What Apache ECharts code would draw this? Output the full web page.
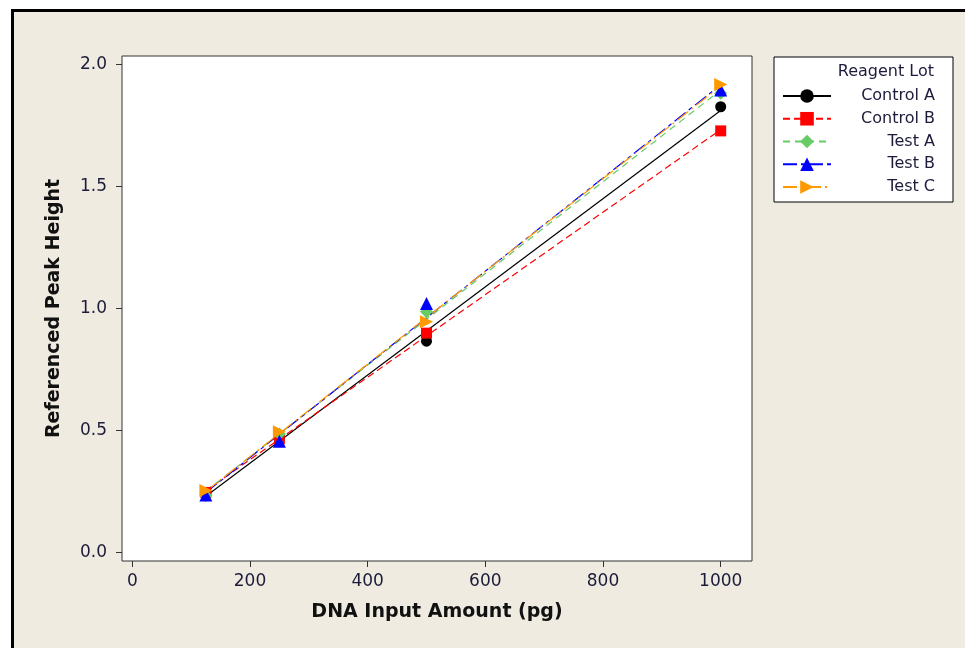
<!DOCTYPE html>
<html>
<head>
<meta charset="utf-8">
<script src="https://cdn.jsdelivr.net/npm/echarts@6/dist/echarts.min.js"></script>
<style>
  html, body { margin: 0; padding: 0; background: #ffffff; }
  #wrap { position: relative; width: 965px; height: 648px; overflow: hidden; background: #ffffff; }
  #frame { position: absolute; left: 11px; top: 9px; width: 1100px; height: 800px; border: 3px solid #000; background: #EFEBE0; }
  #chart { position: absolute; left: 0; top: 0; width: 965px; height: 648px; }
</style>
</head>
<body>
<div id="wrap">
  <div id="frame"></div>
  <div id="chart"></div>
</div>
<script>
// ---- data ----
const xValues = [125, 250, 500, 1000];
const seriesNames = ['Control A', 'Control B', 'Test A', 'Test B', 'Test C'];
const controlA = [0.240, 0.470, 0.865, 1.826];
const controlB = [0.245, 0.465, 0.898, 1.727];
const testA    = [0.232, 0.485, 0.986, 1.881];
const testB    = [0.235, 0.455, 1.020, 1.895];
const testC    = [0.253, 0.494, 0.945, 1.917];
const xTicks = [0, 200, 400, 600, 800, 1000];
const yTicks = [0, 0.5, 1.0, 1.5, 2.0];
const legendTitle = 'Reagent Lot';
const xTitle = 'DNA Input Amount (pg)';
const yTitle = 'Referenced Peak Height';

// ---- styles ----
const allValues = [controlA, controlB, testA, testB, testC];
const styles = [
  { color: '#000000', symbol: 'circle',   size: 11, rotate: 0,   dash: 'solid' },
  { color: '#FF0000', symbol: 'rect',     size: 11, rotate: 0,   dash: [7, 4] },
  { color: '#66CC66', symbol: 'diamond',  size: 13, rotate: 0,   dash: [7, 5] },
  { color: '#0000FF', symbol: 'triangle', size: 13, rotate: 0,   dash: [14, 4, 4, 4] },
  { color: '#FF9900', symbol: 'triangle', size: 13, rotate: -90, dash: [14, 4, 2, 4] }
];

function fit(xs, ys) {
  const n = xs.length;
  const mx = xs.reduce((a, b) => a + b, 0) / n;
  const my = ys.reduce((a, b) => a + b, 0) / n;
  let sxx = 0, sxy = 0;
  for (let i = 0; i < n; i++) { sxx += (xs[i] - mx) ** 2; sxy += (xs[i] - mx) * (ys[i] - my); }
  const b = sxy / sxx, a = my - b * mx;
  const x0 = Math.min(...xs), x1 = Math.max(...xs);
  return [[x0, a + b * x0], [x1, a + b * x1]];
}

const lineSeries = seriesNames.map((name, i) => ({
  name: name,
  type: 'line',
  data: fit(xValues, allValues[i]),
  showSymbol: false,
  symbol: styles[i].symbol,
  symbolSize: styles[i].size,
  symbolRotate: styles[i].rotate,
  itemStyle: { color: styles[i].color },
  lineStyle: { color: styles[i].color, width: 1.2, type: styles[i].dash },
  silent: true,
  z: 2
}));
const pointSeries = seriesNames.map((name, i) => ({
  name: name,
  type: 'scatter',
  data: xValues.map((x, j) => [x, allValues[i][j]]),
  symbol: styles[i].symbol,
  symbolSize: styles[i].size,
  symbolRotate: styles[i].rotate,
  itemStyle: { color: styles[i].color, opacity: 1 },
  z: 3
}));

const chart = echarts.init(document.getElementById('chart'), null, { renderer: 'canvas' });
const tickColor = '#333333';
const labelColor = '#1c1c3a';
chart.setOption({
  animation: false,
  backgroundColor: 'transparent',
  textStyle: { fontFamily: 'DejaVu Sans' },
  grid: {
    left: 122, right: 213, top: 56, bottom: 87,
    show: true, backgroundColor: '#ffffff', borderColor: '#333333', borderWidth: 1
  },
  xAxis: {
    type: 'value', min: -17.5, max: 1053.2,
    name: xTitle, nameLocation: 'middle', nameGap: 42,
    nameTextStyle: { fontFamily: 'DejaVu Sans', fontWeight: 'bold', fontSize: 19, color: '#111111' },
    axisLine: { show: false, onZero: false },
    splitLine: { show: false },
    axisTick: { show: true, customValues: xTicks, length: 6, lineStyle: { color: tickColor, width: 1 } },
    axisLabel: { customValues: xTicks, margin: 12, fontSize: 17, color: labelColor, fontFamily: 'DejaVu Sans',
      formatter: v => String(v) }
  },
  yAxis: {
    type: 'value', min: -0.036, max: 2.034,
    name: yTitle, nameLocation: 'middle', nameGap: 58, nameRotate: 90,
    nameTextStyle: { fontFamily: 'DejaVu Sans', fontWeight: 'bold', fontSize: 19, color: '#111111' },
    axisLine: { show: false, onZero: false },
    splitLine: { show: false },
    axisTick: { show: true, customValues: yTicks, length: 6, lineStyle: { color: tickColor, width: 1 } },
    axisLabel: {
      customValues: yTicks, margin: 15, fontSize: 17, color: labelColor, fontFamily: 'DejaVu Sans',
      formatter: v => v.toFixed(1)
    }
  },
  legend: {
    data: seriesNames,
    orient: 'vertical',
    left: 774, top: 57,
    padding: [31, 18, 7, 8],
    backgroundColor: '#ffffff', borderColor: '#000000', borderWidth: 1, borderRadius: 0,
    itemWidth: 48, itemHeight: 17, itemGap: 6.75,
    selectedMode: false,
    formatter: '{a|{name}}',
    textStyle: {
      rich: { a: { width: 99, align: 'right', fontSize: 16, lineHeight: 16, color: '#1c1c3a', fontFamily: 'DejaVu Sans' } }
    }
  },
  graphic: [{
    type: 'text', x: 934, y: 72, z: 100,
    style: { text: legendTitle, fill: '#1c1c3a', font: '16px "DejaVu Sans"', textAlign: 'right', textVerticalAlign: 'middle' }
  }],
  series: lineSeries.concat(pointSeries)
});
</script>
</body>
</html>
